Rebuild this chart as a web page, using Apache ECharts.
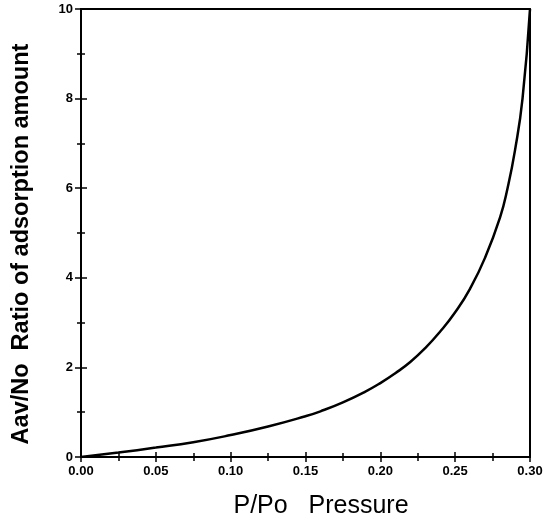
<!DOCTYPE html>
<html>
<head>
<meta charset="utf-8">
<script src="https://cdn.jsdelivr.net/npm/echarts@6/dist/echarts.min.js"></script>
<style>html,body{margin:0;padding:0;background:#fff;}#c{width:555px;height:523px;}</style>
</head>
<body>
<div id="c"></div>
<script>
const pressure = [0, 0.025, 0.05, 0.075, 0.10, 0.125, 0.15, 0.16, 0.175, 0.19, 0.20, 0.21, 0.22, 0.23, 0.24, 0.25, 0.26, 0.27, 0.28, 0.285, 0.29, 0.295, 0.30];
const ratio    = [0, 0.10, 0.21, 0.33, 0.49, 0.68, 0.91, 1.02, 1.22, 1.46, 1.65, 1.87, 2.12, 2.43, 2.80, 3.23, 3.76, 4.45, 5.35, 6.00, 6.85, 8.00, 10.0];
const xTitle = 'P/Po   Pressure';
const yTitle = 'Aav/No  Ratio of adsorption amount';

const chart = echarts.init(document.getElementById('c'));
const lineStyle = {color:'#000', width:2};
const font = 'Liberation Sans, Arial, sans-serif';
function tickAxis(extra){
  return Object.assign({
    type:'value', min:0, splitLine:{show:false},
    axisLine:{show:true, lineStyle:lineStyle, onZero:false},
    minorTick:{show:true, splitNumber:2, length:4, lineStyle:{color:'#000', width:1.5}},
  }, extra);
}
chart.setOption({
  animation:false,
  backgroundColor:'#fff',
  grid:{left:81, right:25, top:9, bottom:66},
  graphic:[
    {type:'text', x:321, y:506, style:{text:xTitle, font:'25px ' + font, fill:'#000', textAlign:'center', textVerticalAlign:'middle'}},
    {type:'text', x:22, y:244, rotation:Math.PI/2, style:{text:yTitle, font:'bold 23.5px ' + font, fill:'#000', textAlign:'center', textVerticalAlign:'middle'}}
  ],
  xAxis:[
    tickAxis({position:'bottom', max:0.30, interval:0.05,
      axisTick:{show:true, inside:false, length:5, lineStyle:{color:'#000', width:1.5}},
      axisLabel:{color:'#000', fontFamily:font, fontWeight:'bold', fontSize:13, margin:8,
        formatter:v=>v.toFixed(2)}}),
    tickAxis({position:'bottom', max:0.30, interval:0.05,
      axisTick:{show:true, inside:true, length:5, lineStyle:{color:'#000', width:1.5}},
      axisLabel:{show:false}}),
    {type:'value', position:'top', min:0, max:0.30, interval:0.05,
      axisLine:{show:true, lineStyle:lineStyle, onZero:false},
      axisTick:{show:false}, axisLabel:{show:false}, splitLine:{show:false}}
  ],
  yAxis:[
    tickAxis({position:'left', max:10, interval:2,
      axisTick:{show:true, inside:false, length:6, lineStyle:{color:'#000', width:1.5}},
      axisLabel:{color:'#000', fontFamily:font, fontWeight:'bold', fontSize:13, margin:8}}),
    tickAxis({position:'left', max:10, interval:2,
      axisTick:{show:true, inside:true, length:6, lineStyle:{color:'#000', width:1.5}},
      axisLabel:{show:false}}),
    {type:'value', position:'right', min:0, max:10, interval:2,
      axisLine:{show:true, lineStyle:lineStyle, onZero:false},
      axisTick:{show:false}, axisLabel:{show:false}, splitLine:{show:false}}
  ],
  series:[{
    type:'line', xAxisIndex:0, yAxisIndex:0, smooth:0.5, symbol:'none',
    lineStyle:{color:'#000', width:2.5},
    data:pressure.map((p,i)=>[p, ratio[i]])
  }]
});
</script>
</body>
</html>
